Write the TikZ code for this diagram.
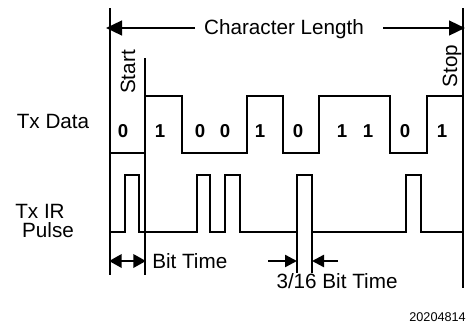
\documentclass[tikz,border=0pt]{standalone}
\usepackage{fontspec}
\setmainfont{Liberation Sans}
\usetikzlibrary{arrows.meta}
\begin{document}
\begin{tikzpicture}[x=0.75pt,y=-0.75pt,
  wave/.style={line width=1.8pt, line join=miter, line cap=butt},
  lbl/.style={font=\fontsize{15.5}{18}\selectfont, inner sep=0pt, anchor=base},
  bitlbl/.style={font=\fontsize{14}{16}\selectfont\bfseries, inner sep=0pt, anchor=base},
  bigarr/.style={line width=1.8pt, -{Triangle[length=12pt,width=11pt]}},
  smallarr/.style={line width=1.8pt, -{Triangle[length=9pt,width=9pt]}},
  dblarr/.style={line width=1.8pt, {Triangle[length=9.5pt,width=10pt]}-{Triangle[length=9.5pt,width=10pt]}}]
\useasboundingbox (0,0) rectangle (467,322);

% frame lines
\coordinate (lt) at (110,8);  \coordinate (lb) at (110,275);
\coordinate (st) at (145,58); \coordinate (sb) at (145,275);
\coordinate (rt) at (463,8);  \coordinate (rb) at (463,288);
\draw[wave] (lt) -- (lb);
\draw[wave] (st) -- (sb);
\draw[wave] (rt) -- (rb);

% Character Length
\node[lbl] (cl) at (284,34) {Character Length};
\coordinate (clL0) at (195,28); \coordinate (clL) at (106,28);
\coordinate (clR0) at (383,28); \coordinate (clR) at (465,28);
\draw[bigarr] (clL0) -- (clL);
\draw[bigarr] (clR0) -- (clR);

% Start / Stop
\node[lbl, rotate=90] (start) at (135,72) {Start};
\node[lbl, rotate=90] (stop) at (457,66) {Stop};

% Row labels
\node[lbl] (txd) at (53,128) {Tx Data};
\node[lbl] (txir) at (40,218) {Tx IR};
\node[lbl] (pulse) at (48,237) {Pulse};

% Tx data waveform
\draw[wave] (110,153) -- (145,153) -- (145,96) -- (182,96) -- (182,153) -- (247,153)
  -- (247,96) -- (283,96) -- (283,153) -- (319,153) -- (319,96) -- (390,96)
  -- (390,153) -- (427,153) -- (427,96) -- (463,96);

% bits
\foreach \x/\b [count=\i] in {123/0,160/1,200/0,225/0,260/1,298/0,342/1,368/1,405/0,442/1}
  \node[bitlbl] (bit\i) at (\x,137) {\b};

% Tx IR pulse waveform
\draw[wave] (110,232) -- (125,232) -- (125,175) -- (139,175) -- (139,232) -- (197,232)
  -- (197,175) -- (210,175) -- (210,232) -- (225,232) -- (225,175) -- (240,175)
  -- (240,232) -- (297,232) -- (297,175) -- (312,175) -- (312,232) -- (406,232)
  -- (406,175) -- (421,175) -- (421,232) -- (463,232);
\coordinate (p1) at (297,232); \coordinate (p1b) at (297,273);
\coordinate (p2) at (312,232); \coordinate (p2b) at (312,273);
\draw[wave] (p1) -- (p1b);
\draw[wave] (p2) -- (p2b);

% Bit Time
\coordinate (btL) at (109,261); \coordinate (btR) at (146,261);
\draw[dblarr] (btL) -- (btR);
\node[lbl, anchor=base west] (bt) at (152,268) {Bit Time};

% 3/16 Bit Time
\coordinate (aL0) at (268,261); \coordinate (aL) at (297,261);
\coordinate (aR0) at (338,261); \coordinate (aR) at (312,261);
\draw[smallarr] (aL0) -- (aL);
\draw[smallarr] (aR0) -- (aR);
\node[lbl] (bt16) at (337,288) {3/16 Bit Time};

% figure number
\node[font=\fontsize{9.5}{11}\selectfont, inner sep=0pt, anchor=base east] (num) at (466,321) {20204814};
\end{tikzpicture}
\end{document}
